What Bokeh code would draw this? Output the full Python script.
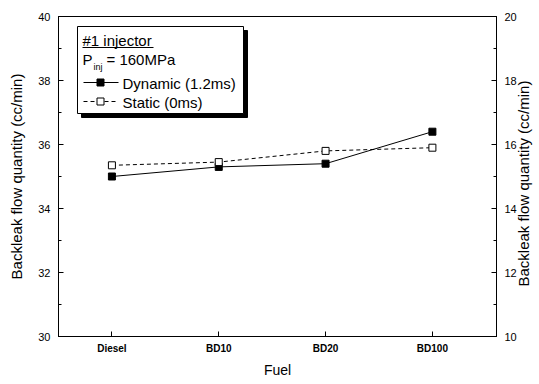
import math
from bokeh.plotting import figure
from bokeh.models import LinearAxis, Range1d, SingleIntervalTicker, FixedTicker
from bokeh.core.properties import value
from bokeh.embed import file_html
from bokeh.resources import INLINE

fuels = ["Diesel", "BD10", "BD20", "BD100"]
dynamic = [35.0, 35.3, 35.4, 36.4]
static = [35.35, 35.45, 35.8, 35.9]

FONT = "Liberation Sans"
X0, X1 = 0.5, 4.6
Y0, Y1 = 30, 40
FW, FH = 438, 320

p = figure(frame_width=FW, frame_height=FH, output_backend="svg", toolbar_location=None,
           x_range=Range1d(X0, X1), y_range=Range1d(Y0, Y1),
           min_border_left=58, min_border_right=43, min_border_top=16, min_border_bottom=48)
p.grid.visible = False
p.outline_line_color = "black"
p.outline_line_width = 1
p.background_fill_color = "white"
p.border_fill_color = "white"

xs = list(range(1, len(fuels) + 1))

# screen -> data helpers for the in-plot legend box
def dx(sx):
    return X0 + (sx - 58) * (X1 - X0) / FW

def dy(sy):
    return Y1 - (sy - 16) * (Y1 - Y0) / FH

# series
p.line(xs, dynamic, line_color="black", line_width=1)
p.scatter(xs, dynamic, marker="square", size=7, fill_color="black", line_color="black")
p.line(xs, static, line_color="black", line_width=1, line_dash="4 3")
p.scatter(xs, static, marker="square", size=7, fill_color="white", line_color="black")

# axes
xa = p.xaxis[0]
xa.ticker = FixedTicker(ticks=xs)
xa.major_label_overrides = {i: f for i, f in zip(xs, fuels)}
xa.axis_label = "Fuel"
ya = p.yaxis[0]
ya.ticker = SingleIntervalTicker(interval=2, num_minor_ticks=2)
ya.axis_label = "Backleak flow quantity (cc/min)"

p.extra_y_ranges = {"right": Range1d(10, 20)}
# label rotated to read bottom-to-top; anchored at the axis start and pushed up with NBSPs
ra = LinearAxis(y_range_name="right",
                axis_label="\u00a0" * 12 + "Backleak flow quantity (cc/min)",
                ticker=SingleIntervalTicker(interval=2, num_minor_ticks=2))
p.add_layout(ra, "right")

for ax in [xa, ya, ra]:
    ax.axis_line_color = "black"
    ax.major_tick_in = 5
    ax.major_tick_out = 0
    ax.minor_tick_in = 3
    ax.minor_tick_out = 0
    ax.major_tick_line_color = "black"
    ax.minor_tick_line_color = "black"
    ax.major_label_text_font = FONT
    ax.major_label_text_color = "black"
    ax.axis_label_text_font = FONT
    ax.axis_label_text_font_style = "normal"
    ax.axis_label_text_font_size = "15px"
    ax.axis_label_text_color = "black"
xa.minor_tick_in = 0
xa.major_label_text_font_size = "10px"
xa.major_label_text_font_style = "bold"
xa.major_label_standoff = 6
xa.axis_label_standoff = 5
xa.axis_label_text_font_size = "14px"
for ax in [ya, ra]:
    ax.major_label_text_font_size = "11px"
    ax.major_label_standoff = 8
ya.axis_label_standoff = 10
ra.axis_label_standoff = 4
ra.axis_label_orientation = math.pi / 2
ra.axis_label_align = "start"

# legend box with shadow
p.quad(left=[dx(81)], right=[dx(247)], top=[dy(30)], bottom=[dy(117)],
       fill_color="black", line_color="black")
p.quad(left=[dx(77)], right=[dx(243)], top=[dy(26)], bottom=[dy(113)],
       fill_color="white", line_color="black", line_width=1)

tf = value(FONT)
FS = "15px"
p.text(x=[dx(82)], y=[dy(40)], text=["#1 injector"], text_font=tf, text_font_size=FS,
       text_baseline="middle", text_color="black")
p.line([dx(82), dx(153)], [dy(47), dy(47)], line_color="black", line_width=1)
p.text(x=[dx(82)], y=[dy(59)], text=["P"], text_font=tf, text_font_size=FS,
       text_baseline="middle", text_color="black")
p.text(x=[dx(93)], y=[dy(66)], text=["inj"], text_font=tf, text_font_size="9px",
       text_baseline="middle", text_color="black")
p.text(x=[dx(106)], y=[dy(59)], text=["= 160MPa"], text_font=tf, text_font_size=FS,
       text_baseline="middle", text_color="black")

p.line([dx(83), dx(118)], [dy(82), dy(82)], line_color="black", line_width=1)
p.scatter([dx(100)], [dy(82)], marker="square", size=7, fill_color="black", line_color="black")
p.text(x=[dx(122)], y=[dy(83)], text=["Dynamic (1.2ms)"], text_font=tf, text_font_size=FS,
       text_baseline="middle", text_color="black")
p.line([dx(83), dx(118)], [dy(101), dy(101)], line_color="black", line_width=1, line_dash="4 3")
p.scatter([dx(100)], [dy(101)], marker="square", size=7, fill_color="white", line_color="black")
p.text(x=[dx(122)], y=[dy(102)], text=["Static (0ms)"], text_font=tf, text_font_size=FS,
       text_baseline="middle", text_color="black")

open("out.html", "w").write(file_html(p, INLINE))
